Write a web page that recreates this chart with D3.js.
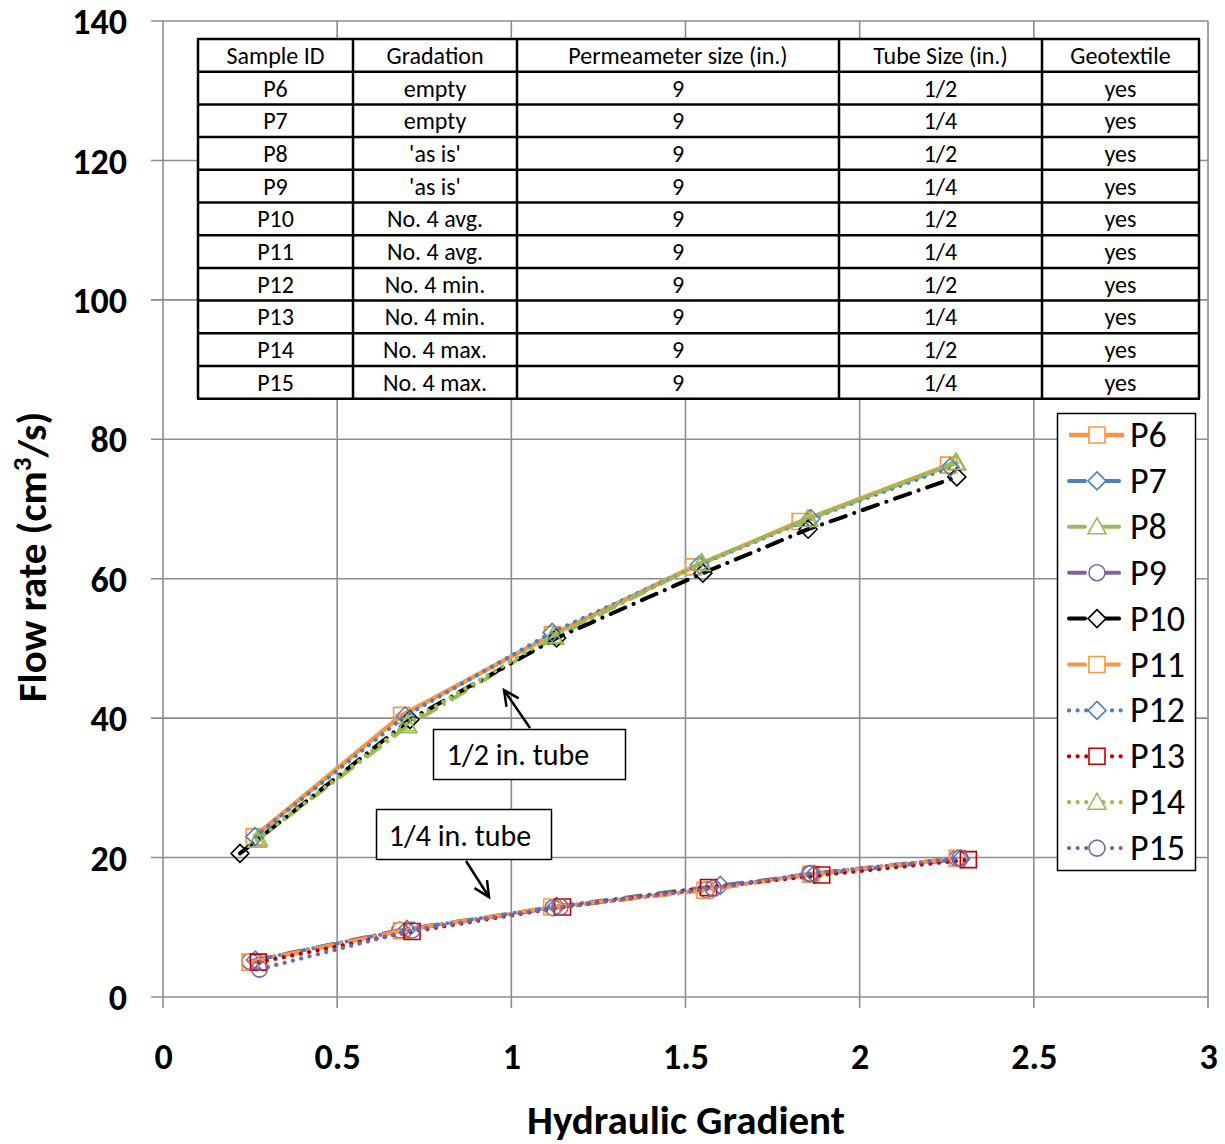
<!DOCTYPE html>
<html>
<head>
<meta charset="utf-8">
<script src="https://cdn.jsdelivr.net/npm/d3@7"></script>
<style>
  html, body { margin: 0; padding: 0; background: #fff; }
  svg { display: block; font-family: Carlito, Calibri, Lato, "DejaVu Sans", sans-serif; }
</style>
</head>
<body>
<svg id="chart" width="1225" height="1144"></svg>
<script>
// ---------------- DATA ----------------
const xTicks = [0, 0.5, 1, 1.5, 2, 2.5, 3];
const yTicks = [0, 20, 40, 60, 80, 100, 120, 140];
const xTickLabels = ["0", "0.5", "1", "1.5", "2", "2.5", "3"];
const yTickLabels = ["0", "20", "40", "60", "80", "100", "120", "140"];

const seriesNames = ["P6", "P7", "P8", "P9", "P10", "P11", "P12", "P13", "P14", "P15"];

const p6x  = [0.262, 0.685, 1.118, 1.523, 1.829, 2.255];
const p6y  = [23.0, 40.4, 52.0, 61.7, 68.2, 76.3];
const p7x  = [0.265, 0.700, 1.130, 1.600, 1.870, 2.290];
const p7y  = [5.3, 9.7, 13.0, 16.0, 17.6, 19.8];
const p8x  = [0.274, 0.703, 1.125, 1.547, 1.855, 2.279];
const p8y  = [22.7, 38.9, 51.6, 62.3, 68.6, 76.6];
const p9x  = [0.250, 0.680, 1.120, 1.560, 1.860, 2.280];
const p9y  = [5.1, 9.6, 12.8, 15.4, 17.7, 19.9];
const p10x = [0.221, 0.709, 1.130, 1.550, 1.852, 2.279];
const p10y = [20.6, 39.8, 51.5, 60.8, 67.1, 74.6];
const p11x = [0.250, 0.685, 1.116, 1.556, 1.860, 2.280];
const p11y = [5.0, 9.5, 12.9, 15.3, 17.6, 19.9];
const p12x = [0.264, 0.695, 1.117, 1.540, 1.860, 2.260];
const p12y = [23.0, 40.3, 52.3, 62.0, 68.6, 76.0];
const p13x = [0.274, 0.715, 1.147, 1.566, 1.891, 2.312];
const p13y = [5.0, 9.4, 12.9, 15.7, 17.5, 19.7];
const p14x = [0.270, 0.700, 1.120, 1.545, 1.850, 2.275];
const p14y = [22.5, 39.2, 51.8, 62.2, 68.5, 76.7];
const p15x = [0.277, 0.715, 1.140, 1.580, 1.856, 2.288];
const p15y = [4.0, 9.6, 12.9, 15.6, 17.7, 19.9];

const tableHeader = ["Sample ID", "Gradation", "Permeameter size (in.)", "Tube Size (in.)", "Geotextile"];
const sampleIds   = ["P6", "P7", "P8", "P9", "P10", "P11", "P12", "P13", "P14", "P15"];
const gradations  = ["empty", "empty", "'as is'", "'as is'", "No. 4 avg.", "No. 4 avg.", "No. 4 min.", "No. 4 min.", "No. 4 max.", "No. 4 max."];
const permSizes   = ["9", "9", "9", "9", "9", "9", "9", "9", "9", "9"];
const tubeSizes   = ["1/2", "1/4", "1/2", "1/4", "1/2", "1/4", "1/2", "1/4", "1/2", "1/4"];
const geotextiles = ["yes", "yes", "yes", "yes", "yes", "yes", "yes", "yes", "yes", "yes"];

const annotationTexts = ["1/2 in. tube", "1/4 in. tube"];

// ---------------- STYLES ----------------
const C = { orange: "#F79646", blue: "#4F81BD", green: "#9BBB59", purple: "#8064A2", black: "#000000", red: "#C00000" };
const DASHDOT = "16 9 0.1 9";
const DOT = "0.1 8.5";
const styles = {
  P6:  { color: C.orange, dash: null,    width: 4.5, marker: "square" },
  P7:  { color: C.blue,   dash: DASHDOT, width: 4,   marker: "diamond" },
  P8:  { color: C.green,  dash: DASHDOT, width: 4,   marker: "triangle" },
  P9:  { color: C.purple, dash: DASHDOT, width: 4,   marker: "circle" },
  P10: { color: C.black,  dash: DASHDOT, width: 4,   marker: "diamond" },
  P11: { color: C.orange, dash: DASHDOT, width: 4,   marker: "square" },
  P12: { color: C.blue,   dash: DOT,     width: 4.2, marker: "diamond" },
  P13: { color: C.red,    dash: DOT,     width: 4.2, marker: "square" },
  P14: { color: C.green,  dash: DOT,     width: 4.2, marker: "triangle" },
  P15: { color: C.purple, dash: DOT,     width: 4.2, marker: "circle" }
};
const seriesX = [p6x, p7x, p8x, p9x, p10x, p11x, p12x, p13x, p14x, p15x];
const seriesY = [p6y, p7y, p8y, p9y, p10y, p11y, p12y, p13y, p14y, p15y];

// ---------------- LAYOUT ----------------
const svg = d3.select("#chart");
const x = d3.scaleLinear().domain([0, 3]).range([163, 1208]);
const y = d3.scaleLinear().domain([0, 140]).range([997, 21]);
const gridColor = "#8c8c8c";
const FONT = "Carlito, Calibri, Lato, sans-serif";

// gridlines
svg.append("g").selectAll("line").data(xTicks).join("line")
  .attr("x1", d => x(d)).attr("x2", d => x(d)).attr("y1", y(140)).attr("y2", y(0) + 11)
  .attr("stroke", gridColor).attr("stroke-width", 1.6);
svg.append("g").selectAll("line").data(yTicks).join("line")
  .attr("x1", x(0) - 12).attr("x2", x(3)).attr("y1", d => y(d)).attr("y2", d => y(d))
  .attr("stroke", gridColor).attr("stroke-width", 1.6);

// axes labels via d3 axes
const xAxis = d3.axisBottom(x).tickValues(xTicks).tickFormat((d, i) => xTickLabels[i]).tickSize(0).tickPadding(0);
const gx = svg.append("g").attr("transform", `translate(0,${y(0)})`).call(xAxis);
gx.select(".domain").remove();
gx.selectAll("text").attr("dy", null).attr("y", 72).attr("font-size", 36).attr("font-weight", "bold")
  .attr("fill", "#000").attr("font-family", FONT);

const yAxis = d3.axisLeft(y).tickValues(yTicks).tickFormat((d, i) => yTickLabels[i]).tickSize(0).tickPadding(0);
const gy = svg.append("g").attr("transform", `translate(${x(0)},0)`).call(yAxis);
gy.select(".domain").remove();
gy.selectAll("text").attr("x", -36).attr("dy", "0.35em").attr("font-size", 36).attr("font-weight", "bold")
  .attr("fill", "#000").attr("font-family", FONT);

// axis titles
svg.append("text").attr("x", 686).attr("y", 1134).attr("text-anchor", "middle")
  .attr("font-size", 41).attr("font-weight", "bold").text("Hydraulic Gradient");
const yt = svg.append("text").attr("transform", "translate(46,557) rotate(-90)").attr("text-anchor", "middle")
  .attr("font-size", 41).attr("font-weight", "bold");
yt.append("tspan").text("Flow rate (cm");
yt.append("tspan").attr("font-size", 27).attr("dy", -15).text("3");
yt.append("tspan").attr("dy", 15).text("/s)");

// ---------------- TABLE ----------------
const colEdges = [198, 353, 517, 839, 1042, 1199];
const tableTop = 39, rowH = 32.7;
const tableRows = [tableHeader].concat(sampleIds.map((s, i) => [s, gradations[i], permSizes[i], tubeSizes[i], geotextiles[i]]));
const tg = svg.append("g");
tg.append("rect").attr("x", colEdges[0]).attr("y", tableTop).attr("width", colEdges[5] - colEdges[0])
  .attr("height", rowH * tableRows.length).attr("fill", "#fff");
tableRows.forEach((row, ri) => {
  row.forEach((cell, ci) => {
    tg.append("text").attr("x", (colEdges[ci] + colEdges[ci + 1]) / 2).attr("y", tableTop + rowH * ri + rowH / 2 + 8.5)
      .attr("text-anchor", "middle").attr("font-size", 24).attr("fill", "#000").text(cell);
  });
});
for (let r = 0; r <= tableRows.length; r++) {
  tg.append("line").attr("x1", colEdges[0] - 1).attr("x2", colEdges[5] + 1)
    .attr("y1", tableTop + r * rowH).attr("y2", tableTop + r * rowH)
    .attr("stroke", "#000").attr("stroke-width", 2.5);
}
colEdges.forEach(cx => {
  tg.append("line").attr("x1", cx).attr("x2", cx).attr("y1", tableTop).attr("y2", tableTop + rowH * tableRows.length)
    .attr("stroke", "#000").attr("stroke-width", 2.5);
});

// ---------------- SERIES ----------------
function markerPath(type, cx, cy) {
  const s = 8;
  if (type === "square") return `M${cx - s},${cy - s}h${2 * s}v${2 * s}h${-2 * s}Z`;
  if (type === "diamond") return `M${cx},${cy - s - 1}L${cx + s + 1},${cy}L${cx},${cy + s + 1}L${cx - s - 1},${cy}Z`;
  if (type === "triangle") return `M${cx},${cy - s - 1}L${cx + s + 1},${cy + s - 1}L${cx - s - 1},${cy + s - 1}Z`;
  return `M${cx - s},${cy}a${s},${s} 0 1,0 ${2 * s},0a${s},${s} 0 1,0 ${-2 * s},0`;
}
const line = d3.line().x(d => x(d[0])).y(d => y(d[1]));
const sg = svg.append("g");
seriesNames.forEach((name, i) => {
  const st = styles[name];
  const pts = seriesX[i].map((xv, j) => [xv, seriesY[i][j]]);
  sg.append("path").datum(pts).attr("d", line).attr("fill", "none")
    .attr("stroke", st.color).attr("stroke-width", st.width)
    .attr("stroke-dasharray", st.dash).attr("stroke-linecap", st.dash ? "round" : "butt")
    .attr("stroke-linejoin", "round");
  sg.append("g").selectAll("path").data(pts).join("path")
    .attr("d", d => markerPath(st.marker, x(d[0]), y(d[1])))
    .attr("fill", "none").attr("stroke", st.color).attr("stroke-width", 1.6);
});

// ---------------- LEGEND ----------------
const lg = svg.append("g");
lg.append("rect").attr("x", 1057.5).attr("y", 413.5).attr("width", 138).attr("height", 457)
  .attr("fill", "#fff").attr("stroke", "#000").attr("stroke-width", 1.5);
seriesNames.forEach((name, i) => {
  const st = styles[name];
  const cy = 435 + i * 45.9;
  lg.append("line").attr("x1", 1069).attr("x2", 1124).attr("y1", cy).attr("y2", cy)
    .attr("stroke", st.color).attr("stroke-width", st.width)
    .attr("stroke-dasharray", st.dash).attr("stroke-linecap", st.dash ? "round" : "butt");
  lg.append("path").attr("d", markerPath(st.marker, 1097, cy)).attr("fill", "#fff")
    .attr("stroke", st.color).attr("stroke-width", 1.6);
  lg.append("text").attr("x", 1130).attr("y", cy + 12).attr("font-size", 36).attr("fill", "#000").text(name);
});

// ---------------- ANNOTATIONS ----------------
function arrow(x1, y1, x2, y2) {
  svg.append("line").attr("x1", x1).attr("y1", y1).attr("x2", x2).attr("y2", y2)
    .attr("stroke", "#000").attr("stroke-width", 2.5);
  const a = Math.atan2(y2 - y1, x2 - x1), L = 17, w = 0.45;
  const p1 = [x2 - L * Math.cos(a - w), y2 - L * Math.sin(a - w)];
  const p2 = [x2 - L * Math.cos(a + w), y2 - L * Math.sin(a + w)];
  svg.append("path").attr("d", `M${p1[0]},${p1[1]}L${x2},${y2}L${p2[0]},${p2[1]}`)
    .attr("fill", "none").attr("stroke", "#000").attr("stroke-width", 2.5);
}
svg.append("rect").attr("x", 433.5).attr("y", 729.5).attr("width", 192).attr("height", 50)
  .attr("fill", "#fff").attr("stroke", "#000").attr("stroke-width", 1.5);
svg.append("text").attr("x", 518).attr("y", 765).attr("text-anchor", "middle").attr("font-size", 30).text(annotationTexts[0]);
arrow(530, 728, 504, 690);
svg.append("rect").attr("x", 376.5).attr("y", 809.5).attr("width", 175).attr("height", 50)
  .attr("fill", "#fff").attr("stroke", "#000").attr("stroke-width", 1.5);
svg.append("text").attr("x", 460).attr("y", 846).attr("text-anchor", "middle").attr("font-size", 30).text(annotationTexts[1]);
arrow(466, 861, 489, 897);
</script>
</body>
</html>
